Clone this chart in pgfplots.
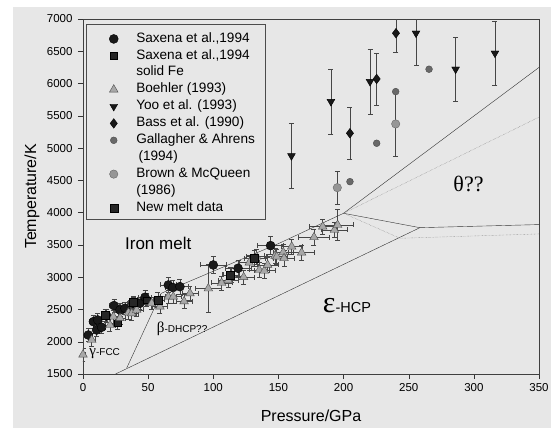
\documentclass[border=0pt]{standalone}
\usepackage{fontspec}
\setmainfont{Liberation Sans}
\newfontfamily\serifgr{Liberation Serif}
\usepackage{pgfplots}
\pgfplotsset{compat=1.18}
\definecolor{bggray}{RGB}{231,231,231}
\definecolor{trifill}{RGB}{168,168,168}
\definecolor{galfill}{RGB}{105,105,105}
\definecolor{bmfill}{RGB}{150,150,150}
\definecolor{errcol}{RGB}{70,70,70}
\begin{document}
\begin{tikzpicture}[x=1pt,y=1pt]
\fill[white] (-83,-54) rectangle (468,374);
\fill[bggray] (-70,-54) rectangle (468,367);
\useasboundingbox (-83,-54) rectangle (468,374);
\begin{axis}[
  at={(0,0)}, anchor=south west,
  scale only axis, width=456pt, height=355pt,
  xmin=0, xmax=350, ymin=1500, ymax=7000,
  xtick={0,50,...,350}, ytick={1500,2000,...,7000},
  tick align=outside, major tick length=5pt,
  xtick pos=bottom, ytick pos=left,
  tick style={black!80, thin},
  axis line style={black!75, thin},
  ticklabel style={font=\fontsize{11.5}{12}\selectfont},
  yticklabel style={xshift=-2pt},
  xticklabel style={yshift=-1pt},
  /pgf/number format/assume math mode=true,
  /pgf/number format/1000 sep={},
  xlabel={Pressure/GPa}, ylabel={Temperature/K},
  label style={font=\fontsize{16}{18}\selectfont},
  xlabel style={at={(axis description cs:0.5,-0.1175)}, anchor=center},
  ylabel style={at={(axis description cs:-0.1118,0.5)}, anchor=center},
  legend style={at={(axis description cs:0.0395,0.986)}, anchor=north west,
    draw=none, fill=none, font=\fontsize{13.6}{15.7}\selectfont,
    nodes={inner ysep=0pt, inner xsep=4pt, text height=11pt, text depth=4.5pt},
    row sep=1.4pt, column sep=14pt,
    inner xsep=4pt, inner ysep=7pt},
  legend cell align=left,
  error bars/error bar style={line width=0.5pt, errcol},
  error bars/error mark options={rotate=90, mark size=2.5pt, line width=0.5pt, errcol},
]
% Saxena et al. 1994 (circles)
\addplot[only marks, mark=*, mark size=4.5pt, mark options={fill=black!90, draw=black},
  error bars/.cd, x dir=both, x explicit, y dir=both, y explicit]
  table[x=x, y=y, x error=ex, y error=ey] {
x y ex ey
4.1 2104 3 100
8 2311 3 100
11.3 2337 3 100
10.5 2182 3 100
14.3 2224 3 100
18.2 2399 4 100
23.8 2560 4 100
28.4 2492 4 100
32.2 2518 4 100
38.6 2596 5 100
43.7 2596 5 100
47.6 2689 5 110
65.5 2879 6 120
69 2840 6 120
74.4 2853 6 120
100 3189 10 130
119 3138 10 130
144 3489 10 140
};
\addlegendentry{Saxena et al.,1994}
% Saxena et al. 1994 solid Fe (small squares)
\addplot[only marks, mark=square*, mark size=3.2pt, mark options={fill=black!85, draw=black},
  error bars/.cd, x dir=both, x explicit, y dir=both, y explicit]
  table[x=x, y=y, x error=ex, y error=ey] {
x y ex ey
26.6 2286 3 100
48.9 2647 5 100
};
\addlegendentry{Saxena et al.,1994}
\addlegendimage{empty legend}
\addlegendentry{solid Fe}
% Boehler (1993) triangles
\addplot[only marks, mark=triangle*, mark size=5pt, mark options={fill=trifill, draw=black!70},
  error bars/.cd, x dir=both, x explicit, y dir=both, y explicit]
  table[x=x, y=y, x error=ex, y error=ey] {
x y ex ey
0 1800 2 100
6.7 2027 3 100
20.7 2259 4 100
23.3 2388 4 100
28.4 2365 4 100
34.8 2450 4 100
37.4 2440 5 100
41.2 2492 5 100
52.7 2596 5 100
59 2545 6 100
65.5 2698 6 100
69.3 2698 6 100
77.6 2625 6 110
82.1 2750 6 110
96.2 2825 10 370
106.4 2910 8 110
111.5 2950 8 110
114 3034 6 110
123.3 3000 8 110
127.6 3225 8 120
133.3 3318 8 120
135.3 3112 8 120
139.2 3100 8 120
141.7 3190 8 120
147.4 3330 8 120
148.7 3318 8 120
153.7 3385 8 120
154.3 3293 8 120
160.2 3473 8 120
167.8 3380 10 120
177.3 3618 12 120
184 3783 10 120
193 3731 10 120
195.4 3809 12 240
};
\addlegendentry{Boehler (1993)}
% Yoo et al. (1993) down triangles
\addplot[only marks, mark=triangle*, mark size=4.5pt, mark options={rotate=180, fill=black!90, draw=black},
  error bars/.cd, y dir=both, y explicit]
  table[x=x, y=y, y error=ey] {
x y ey
160 4880 500
190.3 5720 500
220.3 6030 500
255.6 6780 500
286 6222 500
316.2 6470 500
};
\addlegendentry{Yoo et al. (1993)}
% Bass et al. (1990) diamonds
\addplot[only marks, mark=diamond*, mark size=4.8pt, mark options={fill=black!90, draw=black},
  error bars/.cd, y dir=both, y explicit]
  table[x=x, y=y, y error=ey] {
x y ey
204.9 5230 400
225.4 6071 400
240.2 6780 300
};
\addlegendentry{Bass et al. (1990)}
% Gallagher & Ahrens (1994)
\addplot[only marks, mark=*, mark size=3.4pt, mark options={fill=galfill, draw=black!70}]
  table[x=x, y=y] {
x y
204.9 4480
225.4 5075
240 5875
265.6 6222
};
\addlegendentry{Gallagher \& Ahrens}
\addlegendimage{empty legend}
\addlegendentry{\,(1994)}
% Brown & McQueen (1986)
\addplot[only marks, mark=*, mark size=4.2pt, mark options={fill=bmfill, draw=black!60},
  error bars/.cd, y dir=both, y explicit]
  table[x=x, y=y, y error=ey] {
x y ey
195.2 4387 250
240 5374 500
};
\addlegendentry{Brown \& McQueen}
\addlegendimage{empty legend}
\addlegendentry{(1986)}
% New melt data
\addplot[only marks, mark=square*, mark size=4pt, mark options={fill=black!85, draw=black},
  error bars/.cd, x dir=both, x explicit, y dir=both, y explicit]
  table[x=x, y=y, x error=ex, y error=ey] {
x y ex ey
17 2410 3 100
38.6 2611 4 100
57.5 2650 5 110
113 3034 6 120
131.5 3293 8 120
};
\addlegendentry{New melt data}
% phase boundaries
\addplot[forget plot, thin, black!80, mark=none] coordinates {(60,2750) (150,3520) (200,3990) (350,6250)};
\addplot[forget plot, thin, black!80, mark=none] coordinates {(33.5,1590) (60,2750)};
\addplot[forget plot, thin, black!80, mark=none] coordinates {(25,1500) (258.6,3767)};
\addplot[forget plot, thin, black!80, mark=none] coordinates {(200,3990) (258.6,3767) (350,3815)};
\addplot[forget plot, densely dotted, black!55, mark=none] coordinates {(200,3990) (350,5480)};
\addplot[forget plot, densely dotted, black!55, mark=none] coordinates {(200,3990) (243.3,3603) (350,3670)};
% legend frame
\draw[black!70, thin, fill=bggray] (axis description cs:0.00658,0.4366) rectangle (axis description cs:0.3991,0.9859);
% labels
\node[anchor=base west, inner sep=0pt, font=\fontsize{17}{18}\selectfont] at (axis cs:32.2,3422) {Iron melt};
\node[anchor=base west, inner sep=0pt] at (axis cs:184,2453) {{\serifgr\fontsize{30}{30}\selectfont ε}{\fontsize{14.5}{15}\selectfont -HCP}};
\node[anchor=base west, inner sep=0pt, font=\serifgr\fontsize{22}{22}\selectfont] at (axis cs:284.2,4325) {θ??};
\node[anchor=base west, inner sep=0pt] at (axis cs:56.6,2140) {{\serifgr\fontsize{15}{15}\selectfont β}{\fontsize{10}{10}\selectfont -DHCP??}};
\node[anchor=base west, inner sep=0pt] at (axis cs:4.8,1779) {{\serifgr\fontsize{15}{15}\selectfont γ}{\fontsize{10}{10}\selectfont -FCC}};
\end{axis}
\end{tikzpicture}
\end{document}
